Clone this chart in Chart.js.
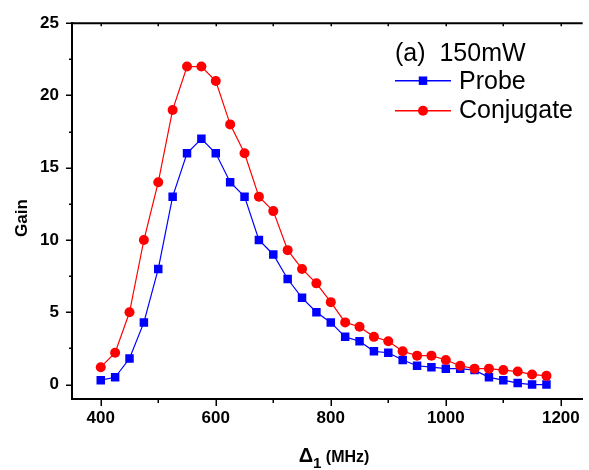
<!DOCTYPE html>
<html>
<head>
<meta charset="utf-8">
<script src="https://cdn.jsdelivr.net/npm/chart.js@4.4.1/dist/chart.umd.min.js"></script>
<style>
  html, body { margin: 0; padding: 0; background: #fff; }
  canvas { display: block; }
</style>
</head>
<body>
<canvas id="gainChart" width="589" height="470"></canvas>
<script>
// Detuning Δ1 in MHz
const detuning = [400, 425, 450, 475, 500, 525, 550, 575, 600, 625, 650, 675, 700, 725, 750, 775,
                  800, 825, 850, 875, 900, 925, 950, 975, 1000, 1025, 1050, 1075, 1100, 1125, 1150, 1175];
// Measured gain of each beam
const probeGain = [0.3, 0.5, 1.8, 4.3, 8, 13, 16, 17, 16, 14, 13, 10, 9, 7.3, 6, 5,
                   4.3, 3.3, 3, 2.3, 2.2, 1.7, 1.3, 1.2, 1.1, 1.1, 1.0, 0.5, 0.3, 0.1, 0, 0];
const conjugateGain = [1.2, 2.2, 5, 10, 14, 19, 22, 22, 21, 18, 16, 13, 12, 9.3, 8, 7,
                       5.7, 4.3, 4, 3.3, 3, 2.3, 2, 2, 1.7, 1.3, 1.1, 1.1, 1.0, 0.9, 0.7, 0.6];

// Axis ticks
const xMajorTicks = [400, 600, 800, 1000, 1200];
const xMinorTicks = [500, 700, 900, 1100];
const yMajorTicks = [0, 5, 10, 15, 20, 25];
const yMinorTicks = [2.5, 7.5, 12.5, 17.5, 22.5];

// Texts
const legendTitle = '(a)  150mW';
const seriesNames = ['Probe', 'Conjugate'];
const yAxisTitle = 'Gain';
const xAxisSymbol = 'Δ';
const xAxisSub = '1';
const xAxisUnit = ' (MHz)';

const FONT = '"Liberation Sans", Arial, Helvetica, sans-serif';
const BLUE = '#0000ff';
const RED = '#ff0000';

const toPoints = (ys) => detuning.map((x, i) => ({ x: x, y: ys[i] }));

// Axis decorations: tick marks, top frame line, axis titles and the legend box
const decorPlugin = {
  id: 'decor',
  afterDraw(chart) {
    const ctx = chart.ctx;
    const area = chart.chartArea;
    const xs = chart.scales.x;
    const ys = chart.scales.y;
    ctx.save();
    ctx.strokeStyle = '#000';
    ctx.lineCap = 'butt';

    // top frame line
    ctx.lineWidth = 2;
    ctx.beginPath();
    ctx.moveTo(area.left - 1, area.top);
    ctx.lineTo(area.right, area.top);
    ctx.stroke();

    ctx.lineWidth = 1.5;
    const xTick = (v, len) => {
      const px = Math.round(xs.getPixelForValue(v)) + 0.25;
      ctx.beginPath();
      ctx.moveTo(px, area.bottom);
      ctx.lineTo(px, area.bottom + len);
      ctx.stroke();
      ctx.beginPath();
      ctx.moveTo(px, area.top);
      ctx.lineTo(px, area.top + 3);
      ctx.stroke();
    };
    xMajorTicks.forEach(v => xTick(v, 7));
    xMinorTicks.forEach(v => xTick(v, 4));

    const yTick = (v, len) => {
      const py = Math.round(ys.getPixelForValue(v)) + 0.25;
      ctx.beginPath();
      ctx.moveTo(area.left - len, py);
      ctx.lineTo(area.left, py);
      ctx.stroke();
    };
    yMajorTicks.forEach(v => yTick(v, 6));
    yMinorTicks.forEach(v => yTick(v, 3));

    // y-axis title
    ctx.fillStyle = '#000';
    ctx.save();
    ctx.translate(22, 218);
    ctx.rotate(-Math.PI / 2);
    ctx.font = 'bold 17px ' + FONT;
    ctx.textAlign = 'center';
    ctx.textBaseline = 'middle';
    ctx.fillText(yAxisTitle, 0, 0);
    ctx.restore();

    // x-axis title: Δ with subscript 1, then unit
    const fSym = 'bold 20px ' + FONT;
    const fSub = 'bold 15px ' + FONT;
    const fUnit = 'bold 16px ' + FONT;
    ctx.font = fSym; const wSym = ctx.measureText(xAxisSymbol).width;
    ctx.font = fSub; const wSub = ctx.measureText(xAxisSub).width;
    ctx.font = fUnit; const wUnit = ctx.measureText(xAxisUnit).width;
    const total = wSym + wSub + wUnit;
    let tx = 334 - total / 2;
    const base = 461.5;
    ctx.textAlign = 'left';
    ctx.textBaseline = 'alphabetic';
    ctx.font = fSym; ctx.fillText(xAxisSymbol, tx, base); tx += wSym;
    ctx.font = fSub; ctx.fillText(xAxisSub, tx, base + 6); tx += wSub;
    ctx.font = fUnit; ctx.fillText(xAxisUnit, tx, base);

    // legend
    const lx = 395;
    const legendFont = '25px ' + FONT;
    ctx.font = legendFont;
    ctx.fillText(legendTitle, lx, 60.5);
    const rows = [
      { name: seriesNames[0], color: BLUE, style: 'rect', radius: 6, y: 80.7, base: 88.5 },
      { name: seriesNames[1], color: RED, style: 'circle', radius: 5, y: 110.7, base: 117.5 }
    ];
    rows.forEach(r => {
      ctx.strokeStyle = r.color;
      ctx.lineWidth = 1.5;
      ctx.beginPath();
      ctx.moveTo(lx, r.y);
      ctx.lineTo(lx + 56, r.y);
      ctx.stroke();
      ctx.fillStyle = r.color;
      Chart.helpers.drawPoint(ctx, { pointStyle: r.style, radius: r.radius, borderWidth: 0 }, lx + 28, r.y);
      ctx.fillStyle = '#000';
      ctx.font = legendFont;
      ctx.fillText(r.name, lx + 64, r.base);
    });
    ctx.restore();
  }
};

new Chart(document.getElementById('gainChart'), {
  type: 'line',
  data: {
    datasets: [
      {
        label: seriesNames[0],
        data: toPoints(probeGain),
        borderColor: BLUE,
        backgroundColor: BLUE,
        borderWidth: 1.2,
        pointStyle: 'rect',
        pointRadius: 6,
        pointBorderWidth: 0,
        pointBackgroundColor: BLUE,
        tension: 0,
        order: 1
      },
      {
        label: seriesNames[1],
        data: toPoints(conjugateGain),
        borderColor: RED,
        backgroundColor: RED,
        borderWidth: 1.2,
        pointStyle: 'circle',
        pointRadius: 5,
        pointBorderWidth: 0,
        pointBackgroundColor: RED,
        tension: 0,
        order: 0
      }
    ]
  },
  options: {
    responsive: false,
    animation: false,
    devicePixelRatio: 1,
    layout: { padding: { top: 17, right: 0, bottom: 0, left: 0 } },
    plugins: { legend: { display: false }, tooltip: { enabled: false } },
    scales: {
      x: {
        type: 'linear',
        min: 350,
        max: 1238,
        afterFit(scale) { scale.height = 71; },
        afterBuildTicks(scale) {
          scale.ticks = xMajorTicks.map(v => ({ value: v }));
        },
        grid: { display: false, drawTicks: false },
        border: { display: true, color: '#000', width: 2 },
        ticks: {
          padding: 9,
          color: '#000',
          font: { family: FONT, size: 17, weight: 'bold' },
          maxRotation: 0,
          autoSkip: false,
          callback: (v) => String(v)
        }
      },
      y: {
        type: 'linear',
        min: -1,
        max: 25,
        afterFit(scale) { scale.width = 72; },
        afterBuildTicks(scale) {
          scale.ticks = yMajorTicks.map(v => ({ value: v }));
        },
        grid: { display: false, drawTicks: false },
        border: { display: true, color: '#000', width: 2 },
        ticks: {
          padding: 13,
          color: '#000',
          font: { family: FONT, size: 17, weight: 'bold' },
          autoSkip: false,
          callback: (v) => String(v)
        }
      }
    }
  },
  plugins: [decorPlugin]
});
</script>
</body>
</html>
